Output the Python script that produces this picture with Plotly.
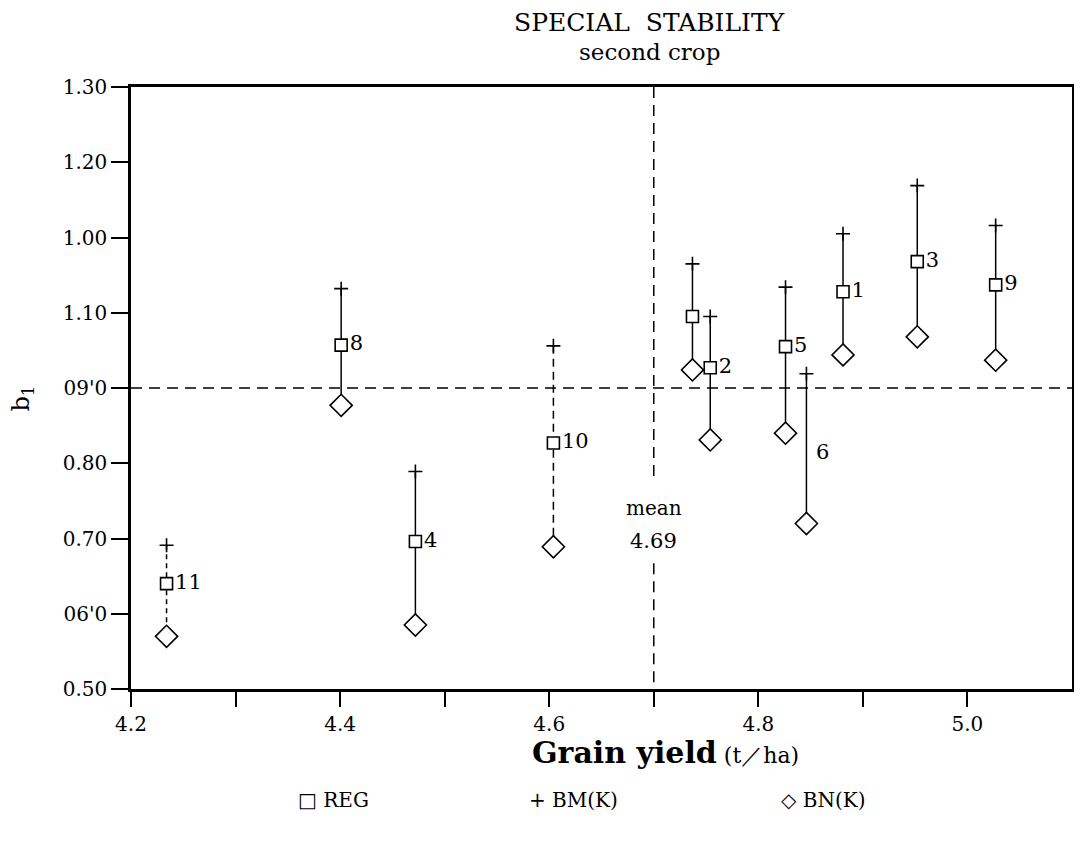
import plotly.graph_objects as go

# ---- data ----
genotype = ["11", "8", "4", "10", "", "2", "5", "6", "1", "3", "9"]
grain_yield = [4.234, 4.401, 4.472, 4.604, 4.737, 4.754, 4.826, 4.846, 4.881, 4.952, 5.027]
b_reg = [0.640, 0.957, 0.696, 0.827, 0.995, 0.927, 0.955, None, 1.028, 1.068, 1.037]
b_bm = [0.691, 1.032, 0.789, 0.956, 1.065, 0.995, 1.034, 0.919, 1.105, 1.169, 1.116]
b_bn = [0.570, 0.877, 0.585, 0.689, 0.924, 0.831, 0.840, 0.720, 0.944, 0.968, 0.937]
link_dash = ["5px,4px", "solid", "solid", "8px,5px", "solid", "solid", "solid", "solid",
             "solid", "solid", "solid"]
label6_y = 0.815

mean_line_x = 4.70
mean_label = "4.69"
b_reference = 0.90

x_tickvals = [4.2, 4.3, 4.4, 4.5, 4.6, 4.7, 4.8, 4.9, 5.0]
x_ticktext = ["4.2", "", "4.4", "", "4.6", "", "4.8", "", "5.0"]
y_tickvals = [0.5, 0.6, 0.7, 0.8, 0.9, 1.0, 1.1, 1.2, 1.3]
y_ticktext = ["0.50", "06'0", "0.70", "0.80", "09'0", "1.10", "1.00", "1.20", "1.30"]

FONT = "DejaVu Serif"
fig = go.Figure()

# vertical links BM -> BN
for gx, top, bot, dash in zip(grain_yield, b_bm, b_bn, link_dash):
    fig.add_trace(go.Scatter(x=[gx, gx], y=[top, bot], mode="lines",
                             line=dict(color="black", width=1.5, dash=dash),
                             showlegend=False, hoverinfo="skip"))

# mean line (two segments around the label)
fig.add_trace(go.Scatter(x=[mean_line_x, mean_line_x, None, mean_line_x, mean_line_x],
                         y=[1.3, 0.775, None, 0.667, 0.5], mode="lines",
                         line=dict(color="black", width=1.5, dash="11px,7px"),
                         showlegend=False, hoverinfo="skip"))
# reference b line
fig.add_trace(go.Scatter(x=[4.2, 5.1], y=[b_reference, b_reference], mode="lines",
                         line=dict(color="black", width=1.5, dash="11px,7px"),
                         showlegend=False, hoverinfo="skip"))

fig.add_trace(go.Scatter(x=grain_yield, y=b_bm, mode="markers", name="BM(K)",
                         marker=dict(symbol="cross-thin", size=10,
                                     line=dict(color="black", width=1.6)),
                         showlegend=False))
fig.add_trace(go.Scatter(x=grain_yield, y=b_bn, mode="markers", name="BN(K)",
                         marker=dict(symbol="diamond", size=17, color="white",
                                     line=dict(color="black", width=1.6)),
                         showlegend=False))
fig.add_trace(go.Scatter(x=grain_yield, y=b_reg, mode="markers+text", name="REG",
                         text=genotype, textposition="middle right",
                         textfont=dict(family=FONT, size=21, color="black"),
                         marker=dict(symbol="square", size=12, color="white",
                                     line=dict(color="black", width=1.6)),
                         showlegend=False))

fig.add_annotation(x=grain_yield[7], y=label6_y, text=genotype[7], showarrow=False,
                   xanchor="left", yanchor="middle", xshift=8,
                   font=dict(family=FONT, size=21, color="black"))
fig.add_annotation(x=mean_line_x, y=0.740, text="mean", showarrow=False,
                   xanchor="center", yanchor="middle",
                   font=dict(family=FONT, size=20, color="black"))
fig.add_annotation(x=mean_line_x, y=0.697, text=mean_label, showarrow=False,
                   xanchor="center", yanchor="middle",
                   font=dict(family=FONT, size=21, color="black"))


def paper_text(x, y, text, size, angle=0):
    fig.add_annotation(xref="paper", yref="paper", x=x, y=y, text=text, textangle=angle,
                       xanchor="center", yanchor="middle", showarrow=False,
                       font=dict(family=FONT, size=size, color="black"))


# titles and legend texts
paper_text(0.551, 1.107, "SPECIAL  STABILITY", 25)
paper_text(0.551, 1.058, "second crop", 23)
paper_text(0.568, -0.105, "<b>Grain yield</b><span style='font-size:22px'> (t／ha)</span>", 30)
paper_text(-0.1155, 0.483, "b<sub>1</sub>", 24, angle=-90)
for lx, lt in [(0.215, "□ REG"), (0.470, "+ BM(K)"), (0.735, "◇ BN(K)")]:
    paper_text(lx, -0.184, lt, 20)

# page body has an 8px default margin: size/margins compensate for it
fig.update_layout(
    width=1074, height=838,
    margin=dict(l=123, r=7, t=79, b=157),
    paper_bgcolor="white", plot_bgcolor="white",
    font=dict(family=FONT, color="black"),
    showlegend=False,
)
fig.update_xaxes(range=[4.2, 5.1], tickvals=x_tickvals, ticktext=x_ticktext,
                 ticks="outside", ticklen=15, tickwidth=2, tickcolor="black",
                 showline=True, linewidth=2.5, linecolor="black", mirror=True,
                 showgrid=False, zeroline=False,
                 tickfont=dict(family=FONT, size=20, color="black"))
fig.update_yaxes(range=[0.5, 1.3], tickvals=y_tickvals, ticktext=y_ticktext,
                 ticks="outside", ticklen=17, tickwidth=2, tickcolor="black",
                 showline=True, linewidth=2.5, linecolor="black", mirror=True,
                 showgrid=False, zeroline=False,
                 tickfont=dict(family=FONT, size=20, color="black"))

fig.write_html("out.html")
